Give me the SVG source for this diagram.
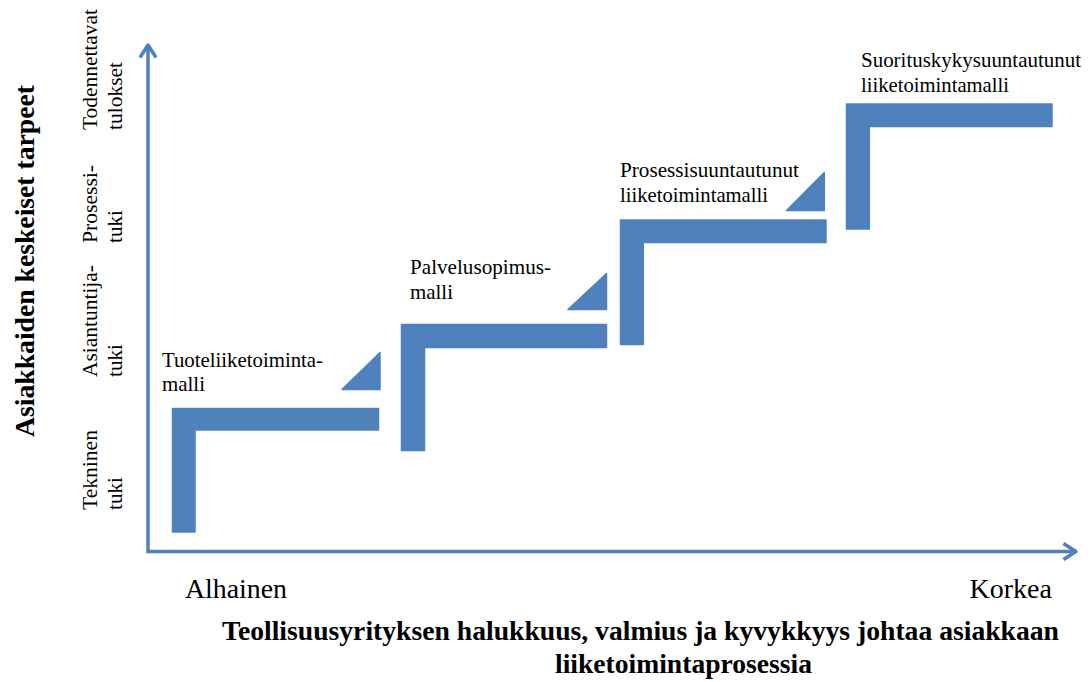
<svg xmlns="http://www.w3.org/2000/svg" width="1092" height="682" viewBox="0 0 1092 682">
<style>
.step{fill:#4F81BD;stroke:#4F81BD;stroke-width:1.5;stroke-linejoin:round}
.axis{fill:none;stroke:#4F81BD;stroke-width:3.5}
text{font-family:"Liberation Serif","Times New Roman",serif;fill:#000}
.lbl{font-size:21px}
.ylbl{font-size:21.5px}
.big{font-size:28px}
.title{font-size:27.5px;font-weight:bold}
</style>
<rect width="1092" height="682" fill="#fff"/>
<g id="connectors">
  <polyline class="axis" points="148,45 148,551.5 1076,551.5"/>
  <polyline class="axis" points="140,57.5 148,45 156,57.5" stroke-linejoin="round"/>
  <polyline class="axis" points="1063.5,543.5 1076,551.5 1063.5,559.5" stroke-linejoin="round"/>
</g>
<g id="y-axis-title">
  <text class="title" transform="translate(34,437) rotate(-90)" textLength="352" lengthAdjust="spacingAndGlyphs">Asiakkaiden keskeiset tarpeet</text>
</g>
<g id="y-levels">
  <text class="ylbl" transform="translate(97,510) rotate(-90)" textLength="80" lengthAdjust="spacingAndGlyphs">Tekninen</text>
  <text class="ylbl" transform="translate(122,510) rotate(-90)" textLength="33" lengthAdjust="spacingAndGlyphs">tuki</text>
  <text class="ylbl" transform="translate(97,377) rotate(-90)" textLength="112" lengthAdjust="spacingAndGlyphs">Asiantuntija-</text>
  <text class="ylbl" transform="translate(122,377) rotate(-90)" textLength="33" lengthAdjust="spacingAndGlyphs">tuki</text>
  <text class="ylbl" transform="translate(97,243) rotate(-90)" textLength="78" lengthAdjust="spacingAndGlyphs">Prosessi-</text>
  <text class="ylbl" transform="translate(122,243) rotate(-90)" textLength="33" lengthAdjust="spacingAndGlyphs">tuki</text>
  <text class="ylbl" transform="translate(97,130) rotate(-90)" textLength="121" lengthAdjust="spacingAndGlyphs">Todennettavat</text>
  <text class="ylbl" transform="translate(122,130) rotate(-90)" textLength="68" lengthAdjust="spacingAndGlyphs">tulokset</text>
</g>
<g id="step1">
  <path class="step" d="M172.5,408.5 H378.5 V430 H195 V532 H172.5 Z"/>
  <polygon class="step" points="380,352.5 342,389.5 380,389.5"/>
  <text class="lbl" x="162" y="366.7" textLength="161" lengthAdjust="spacingAndGlyphs">Tuoteliiketoiminta-</text>
  <text class="lbl" x="162" y="390.5" textLength="43" lengthAdjust="spacingAndGlyphs">malli</text>
</g>
<g id="step2">
  <path class="step" d="M401.5,324.5 H606.5 V347.5 H424.5 V450.5 H401.5 Z"/>
  <polygon class="step" points="606.5,273.5 568,309.5 606.5,309.5"/>
  <text class="lbl" x="410" y="274.3" textLength="141" lengthAdjust="spacingAndGlyphs">Palvelusopimus-</text>
  <text class="lbl" x="410" y="299.3" textLength="43" lengthAdjust="spacingAndGlyphs">malli</text>
</g>
<g id="step3">
  <path class="step" d="M620.5,220 H826 V242.5 H643.3 V344.5 H620.5 Z"/>
  <polygon class="step" points="824.3,172.5 786.5,210.5 824.3,210.5"/>
  <text class="lbl" x="620" y="176.7" textLength="179" lengthAdjust="spacingAndGlyphs">Prosessisuuntautunut</text>
  <text class="lbl" x="620" y="201.7" textLength="148" lengthAdjust="spacingAndGlyphs">liiketoimintamalli</text>
</g>
<g id="step4">
  <path class="step" d="M846.5,104 H1052 V126.5 H869.3 V229 H846.5 Z"/>
  <text class="lbl" x="861" y="66.7" textLength="220" lengthAdjust="spacingAndGlyphs">Suorituskykysuuntautunut</text>
  <text class="lbl" x="861" y="91.7" textLength="148" lengthAdjust="spacingAndGlyphs">liiketoimintamalli</text>
</g>
<g id="x-axis-labels">
  <text class="big" x="185" y="598" textLength="102" lengthAdjust="spacingAndGlyphs">Alhainen</text>
  <text class="big" x="969.5" y="598" textLength="82.5" lengthAdjust="spacingAndGlyphs">Korkea</text>
  <text class="title" x="222" y="640" textLength="837" lengthAdjust="spacingAndGlyphs">Teollisuusyrityksen halukkuus, valmius ja kyvykkyys johtaa asiakkaan</text>
  <text class="title" x="555" y="673.3" textLength="257" lengthAdjust="spacingAndGlyphs">liiketoimintaprosessia</text>
</g>
</svg>
